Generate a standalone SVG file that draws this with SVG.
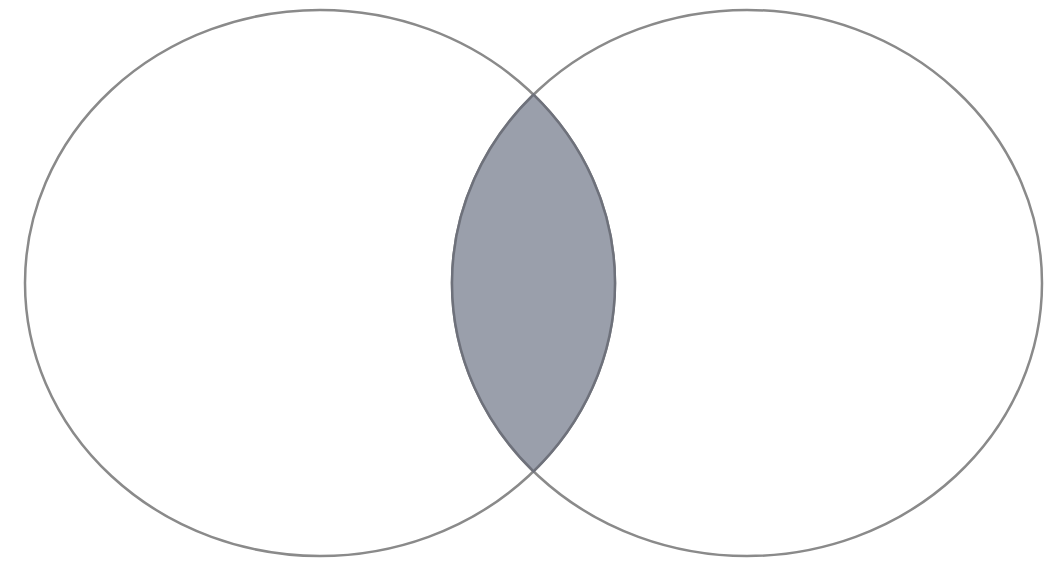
<svg xmlns="http://www.w3.org/2000/svg" width="1058" height="565" viewBox="0 0 1058 565">
<defs>
<style>
.c{fill:none;stroke:#8a8a8a;stroke-width:2.5}
.lensfill{fill:#9a9fab;stroke:none}
.lensline{fill:none;stroke:#6e717b;stroke-width:2.5}
</style>
<clipPath id="clipL"><ellipse cx="320" cy="283" rx="295" ry="273"/></clipPath>
</defs>
<rect width="1058" height="565" fill="#ffffff"/>
<g id="setA"><ellipse class="c" cx="320" cy="283" rx="295" ry="273"/></g>
<g id="setB"><ellipse class="c" cx="747" cy="283" rx="295" ry="273"/></g>
<g id="intersection">
<ellipse class="lensfill" cx="747" cy="283" rx="295" ry="273" clip-path="url(#clipL)"/>
<path class="lensline" d="M533.5,94.6 A295,273 0 0 1 533.5,471.4 A295,273 0 0 1 533.5,94.6 Z"/>
</g>
</svg>
